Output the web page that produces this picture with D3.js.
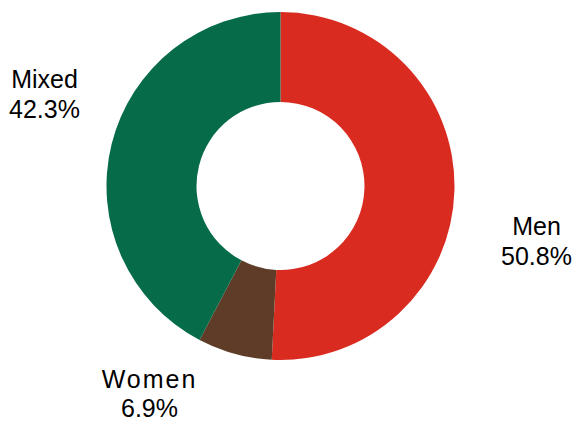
<!DOCTYPE html>
<html><head><meta charset="utf-8">
<script src="https://cdn.jsdelivr.net/npm/d3@7"></script>
<style>html,body{margin:0;padding:0;background:#fff;}svg{display:block;}</style>
</head><body>
<svg id="chart" width="577" height="421"></svg>
<script>
const categories = ["Men", "Women", "Mixed"];
const values = [50.8, 6.9, 42.3];
const colors = ["#D92B20", "#5E3C27", "#066B48"];

const svg = d3.select("#chart");
const cx = 280.5, cy = 186, outerR = 174, innerR = 84;
const g = svg.append("g").attr("transform", `translate(${cx},${cy})`);
const pie = d3.pie().sort(null).value(d => d.v);
const data = categories.map((c, i) => ({c, v: values[i], col: colors[i]}));
const arcs = pie(data);
const arc = d3.arc().innerRadius(innerR).outerRadius(outerR);
g.selectAll("path").data(arcs).join("path")
  .attr("d", arc).attr("fill", d => d.data.col);

// label anchor positions (layout, relative to chart center)
const labelPos = {Men: [256, 49, 30, 0], Women: [-131, 202, 29, 2], Mixed: [-236, -98, 30, 0]};
const lg = svg.append("g").attr("transform", `translate(${cx},${cy})`);
arcs.forEach(a => {
  const [x, y, gap, ls] = labelPos[a.data.c];
  const t = lg.append("text").attr("x", x).attr("y", y)
    .attr("text-anchor", "middle")
    .attr("font-family", "'Liberation Sans', Arial, sans-serif")
    .attr("font-size", 25).attr("fill", "#000");
  t.append("tspan").attr("x", x).attr("dy", 0).attr("letter-spacing", ls).text(a.data.c);
  t.append("tspan").attr("x", x).attr("dy", gap).text(d3.format(".1f")(a.data.v) + "%");
});
</script>
</body></html>
